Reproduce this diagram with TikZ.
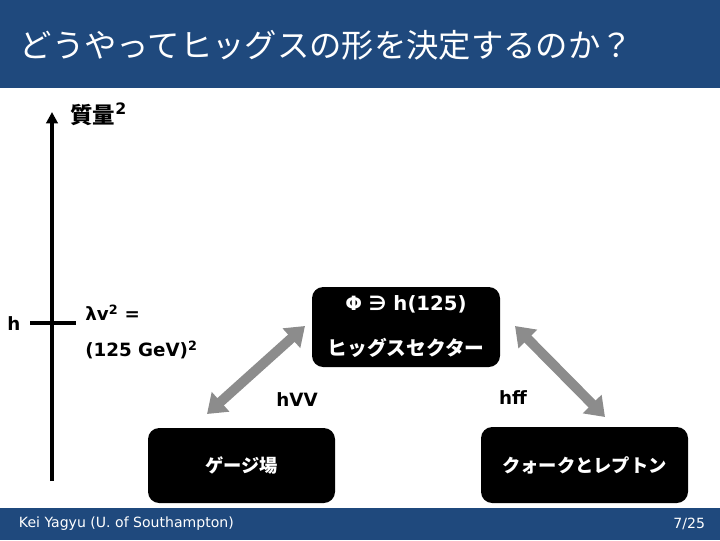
\documentclass[tikz,border=0pt]{standalone}
\usepackage{fontspec}
\setmainfont{DejaVu Sans}
\newfontfamily\cjk{Noto Sans CJK JP}
\usetikzlibrary{arrows.meta,positioning}
\definecolor{slideblue}{HTML}{1F497D}
\definecolor{arrowgrey}{HTML}{8C8C8C}
\tikzset{
  sector/.style={
    fill = black,
    rounded corners = 8pt,
    text = white,
    align = center,
    inner sep = 0pt,
    font = \bfseries\fontsize{13}{30}\selectfont
  },
  coupling/.style={
    draw = arrowgrey,
    line width = 7pt,
    {Triangle[width=18pt,length=13pt]}-{Triangle[width=18pt,length=13pt]}
  },
  massaxis/.style={
    line width = 2.2pt,
    -{Triangle[width=8pt,length=8pt]}
  },
  tick/.style={
    line width = 2.2pt
  },
  lbl/.style={
    inner sep = 0pt,
    font = \bfseries\fontsize{13}{16}\selectfont
  },
  barbox/.style={
    fill = slideblue
  }
}

\begin{document}
\begin{tikzpicture}[x=0.025cm,y=-0.025cm]
\useasboundingbox (0,0) rectangle (720,540);
% title and footer bars
\fill[barbox] (0,0) rectangle (720,88);
\fill[barbox] (0,508) rectangle (720,540);
\node[anchor=west,text=white,font=\cjk\fontsize{23}{27}\selectfont] (title) at (15,45) {どうやってヒッグスの形を決定するのか？};
\node[anchor=west,text=white,font=\fontsize{10}{12}\selectfont] (author) at (14,524) {Kei Yagyu (U. of Southampton)};
\node[anchor=east,text=white,font=\fontsize{10}{12}\selectfont] (page) at (710,524) {7/25};
% mass axis
\coordinate (axisfoot) at (52,481);
\coordinate (axistip) at (52,112);
\draw[massaxis] (axisfoot) -- (axistip);
\node[lbl,anchor=west,font=\cjk\bfseries\fontsize{16}{18}\selectfont] (mass) at (70,114) {質量\textsuperscript{\fontspec{DejaVu Sans Bold}2}};
\node[lbl] (hlevel) at (14,324) {h};
\coordinate (tickl) at (30,323);
\coordinate (tickr) at (76,323);
\draw[tick] (tickl) -- (tickr);
\node[lbl,anchor=west] (vev) at (85,313) {λv\textsuperscript{2} =};
\node[lbl,anchor=west] (value) at (85,350) {(125 GeV)\textsuperscript{2}};
% sectors
\node[sector,font=\bfseries\fontsize{14}{32}\selectfont,minimum width=188*0.025cm,minimum height=80*0.025cm] (higgs) at (406,327) {Φ ∋ h(125)\\{\cjk\bfseries ヒッグスセクター}};
\node[sector,minimum width=187*0.025cm,minimum height=75*0.025cm] (gauge) at (241.5,465.5) {\cjk\bfseries ゲージ場};
\node[sector,minimum width=207*0.025cm,minimum height=76*0.025cm] (fermion) at (584.5,465) {\cjk\bfseries クォークとレプトン};
% couplings
\coordinate (hvvtop) at (305,326);
\coordinate (hvvbot) at (207,414);
\coordinate (hfftop) at (515,326);
\coordinate (hffbot) at (605,417);
\draw[coupling] (hvvtop) -- (hvvbot);
\draw[coupling] (hfftop) -- (hffbot);
\node[lbl] (hvv) at (297,400) {hVV};
\node[lbl] (hff) at (513,398) {hff};
\end{tikzpicture}
\end{document}
